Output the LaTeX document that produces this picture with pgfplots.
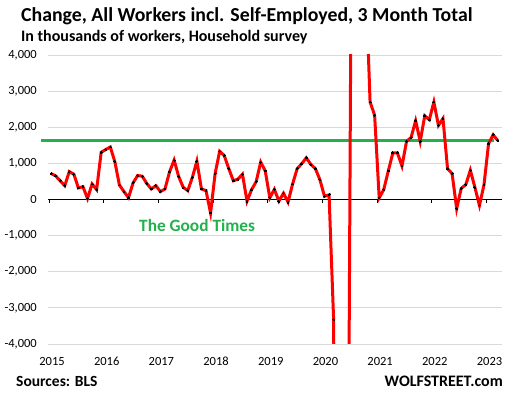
\documentclass[border=0pt]{standalone}
\usepackage{pgfplots}
\pgfplotsset{compat=1.18}
\usepackage{pgfplotstable}
\usepackage{fontspec}
\setmainfont{Carlito}
\definecolor{goodgreen}{RGB}{34,177,76}
\definecolor{gridc}{RGB}{217,217,217}
\definecolor{linered}{RGB}{255,0,0}

\pgfplotstableread{
m v
0 717
1 654
2 518
3 381
4 771
5 700
6 319
7 354
8 27
9 428
10 272
11 1308
12 1381
13 1453
14 1044
15 400
16 218
17 50
18 460
19 662
20 645
21 444
22 291
23 381
24 218
25 291
26 763
27 1090
28 636
29 336
30 245
31 608
32 1063
33 291
34 245
35 -373
36 717
37 1335
38 1217
39 853
40 518
41 563
42 700
43 -46
44 272
45 490
46 1035
47 790
48 46
49 281
50 -46
51 172
52 -73
53 428
54 853
55 989
56 1153
57 972
58 853
59 545
60 90
61 128
62 -3324
63 -25388
64 -21490
65 -13586
66 10206
67 10046
68 5377
69 6274
70 2698
71 2335
72 46
73 272
74 790
75 1289
76 1289
77 926
78 1608
79 1717
80 2180
81 1608
82 2316
83 2207
84 2698
85 2050
86 2240
87 853
88 717
89 -253
90 308
91 409
92 809
93 336
94 -163
95 409
96 1545
97 1790
98 1635
}\datatable

\begin{document}
\begin{tikzpicture}
\useasboundingbox (-48pt,-54pt) rectangle (468pt,344pt);
\begin{axis}[
  at={(0pt,0pt)}, anchor=south west,
  scale only axis, width=454pt, height=289pt,
  xmin=-0.22, xmax=99.4, ymin=-4000, ymax=4000,
  clip mode=individual,
  axis line style={draw=none},
  tick style={draw=none},
  xtick={0,12,24,36,48,60,72,84,96},
  xticklabels={2015,2016,2017,2018,2019,2020,2021,2022,2023},
  ytick={-4000,-3000,-2000,-1000,0,1000,2000,3000,4000},
  ymajorgrids,
  grid style={gridc, line width=0.9pt},
  /pgf/number format/assume math mode=true,
  /pgf/number format/1000 sep={,},
  tick label style={font=\fontsize{12.5}{14}\selectfont, text=black},
  yticklabel style={anchor=east, inner sep=0pt, xshift=-11pt},
  xticklabel style={anchor=north, inner sep=0pt, yshift=-13pt, xshift=3pt},
]
\addplot[goodgreen, line width=3pt, clip=false, forget plot] coordinates {(-1.76,1630) (97.6,1630)};
\draw[black, line width=1.4pt] (axis cs:-0.22,0) -- (axis cs:99.3,0);
\pgfplotsinvokeforeach{0,12,24,36,48,60,72,84,96}{
  \draw[black, line width=1pt] (axis cs:#1,0) -- ++(0pt,-4pt);
}
\addplot[linered, line width=3pt, mark=*, mark size=0.95pt,
  mark options={draw=black, fill=black, line width=0pt}]
  table[x expr=\thisrow{m}+0.45, y=v] {\datatable};
\end{axis}
\node[anchor=base west, inner sep=0pt, font=\fontsize{19.8}{22}\bfseries\selectfont] at (-27pt,322pt) {Change, All Workers incl. Self-Employed, 3 Month Total};
\node[anchor=base west, inner sep=0pt, font=\fontsize{16}{18}\bfseries\selectfont] at (-27pt,302.5pt) {In thousands of workers, Household survey};
\node[anchor=base west, inner sep=0pt, text=goodgreen, font=\fontsize{17.3}{19}\bfseries\selectfont] at (91pt,112pt) {The Good Times};
\node[anchor=base west, inner sep=0pt, font=\fontsize{15.5}{17}\bfseries\selectfont] at (-32pt,-43pt) {Sources: BLS};
\node[anchor=base east, inner sep=0pt, font=\fontsize{16}{18}\bfseries\selectfont] at (455pt,-43pt) {WOLFSTREET.com};
\end{tikzpicture}
\end{document}
